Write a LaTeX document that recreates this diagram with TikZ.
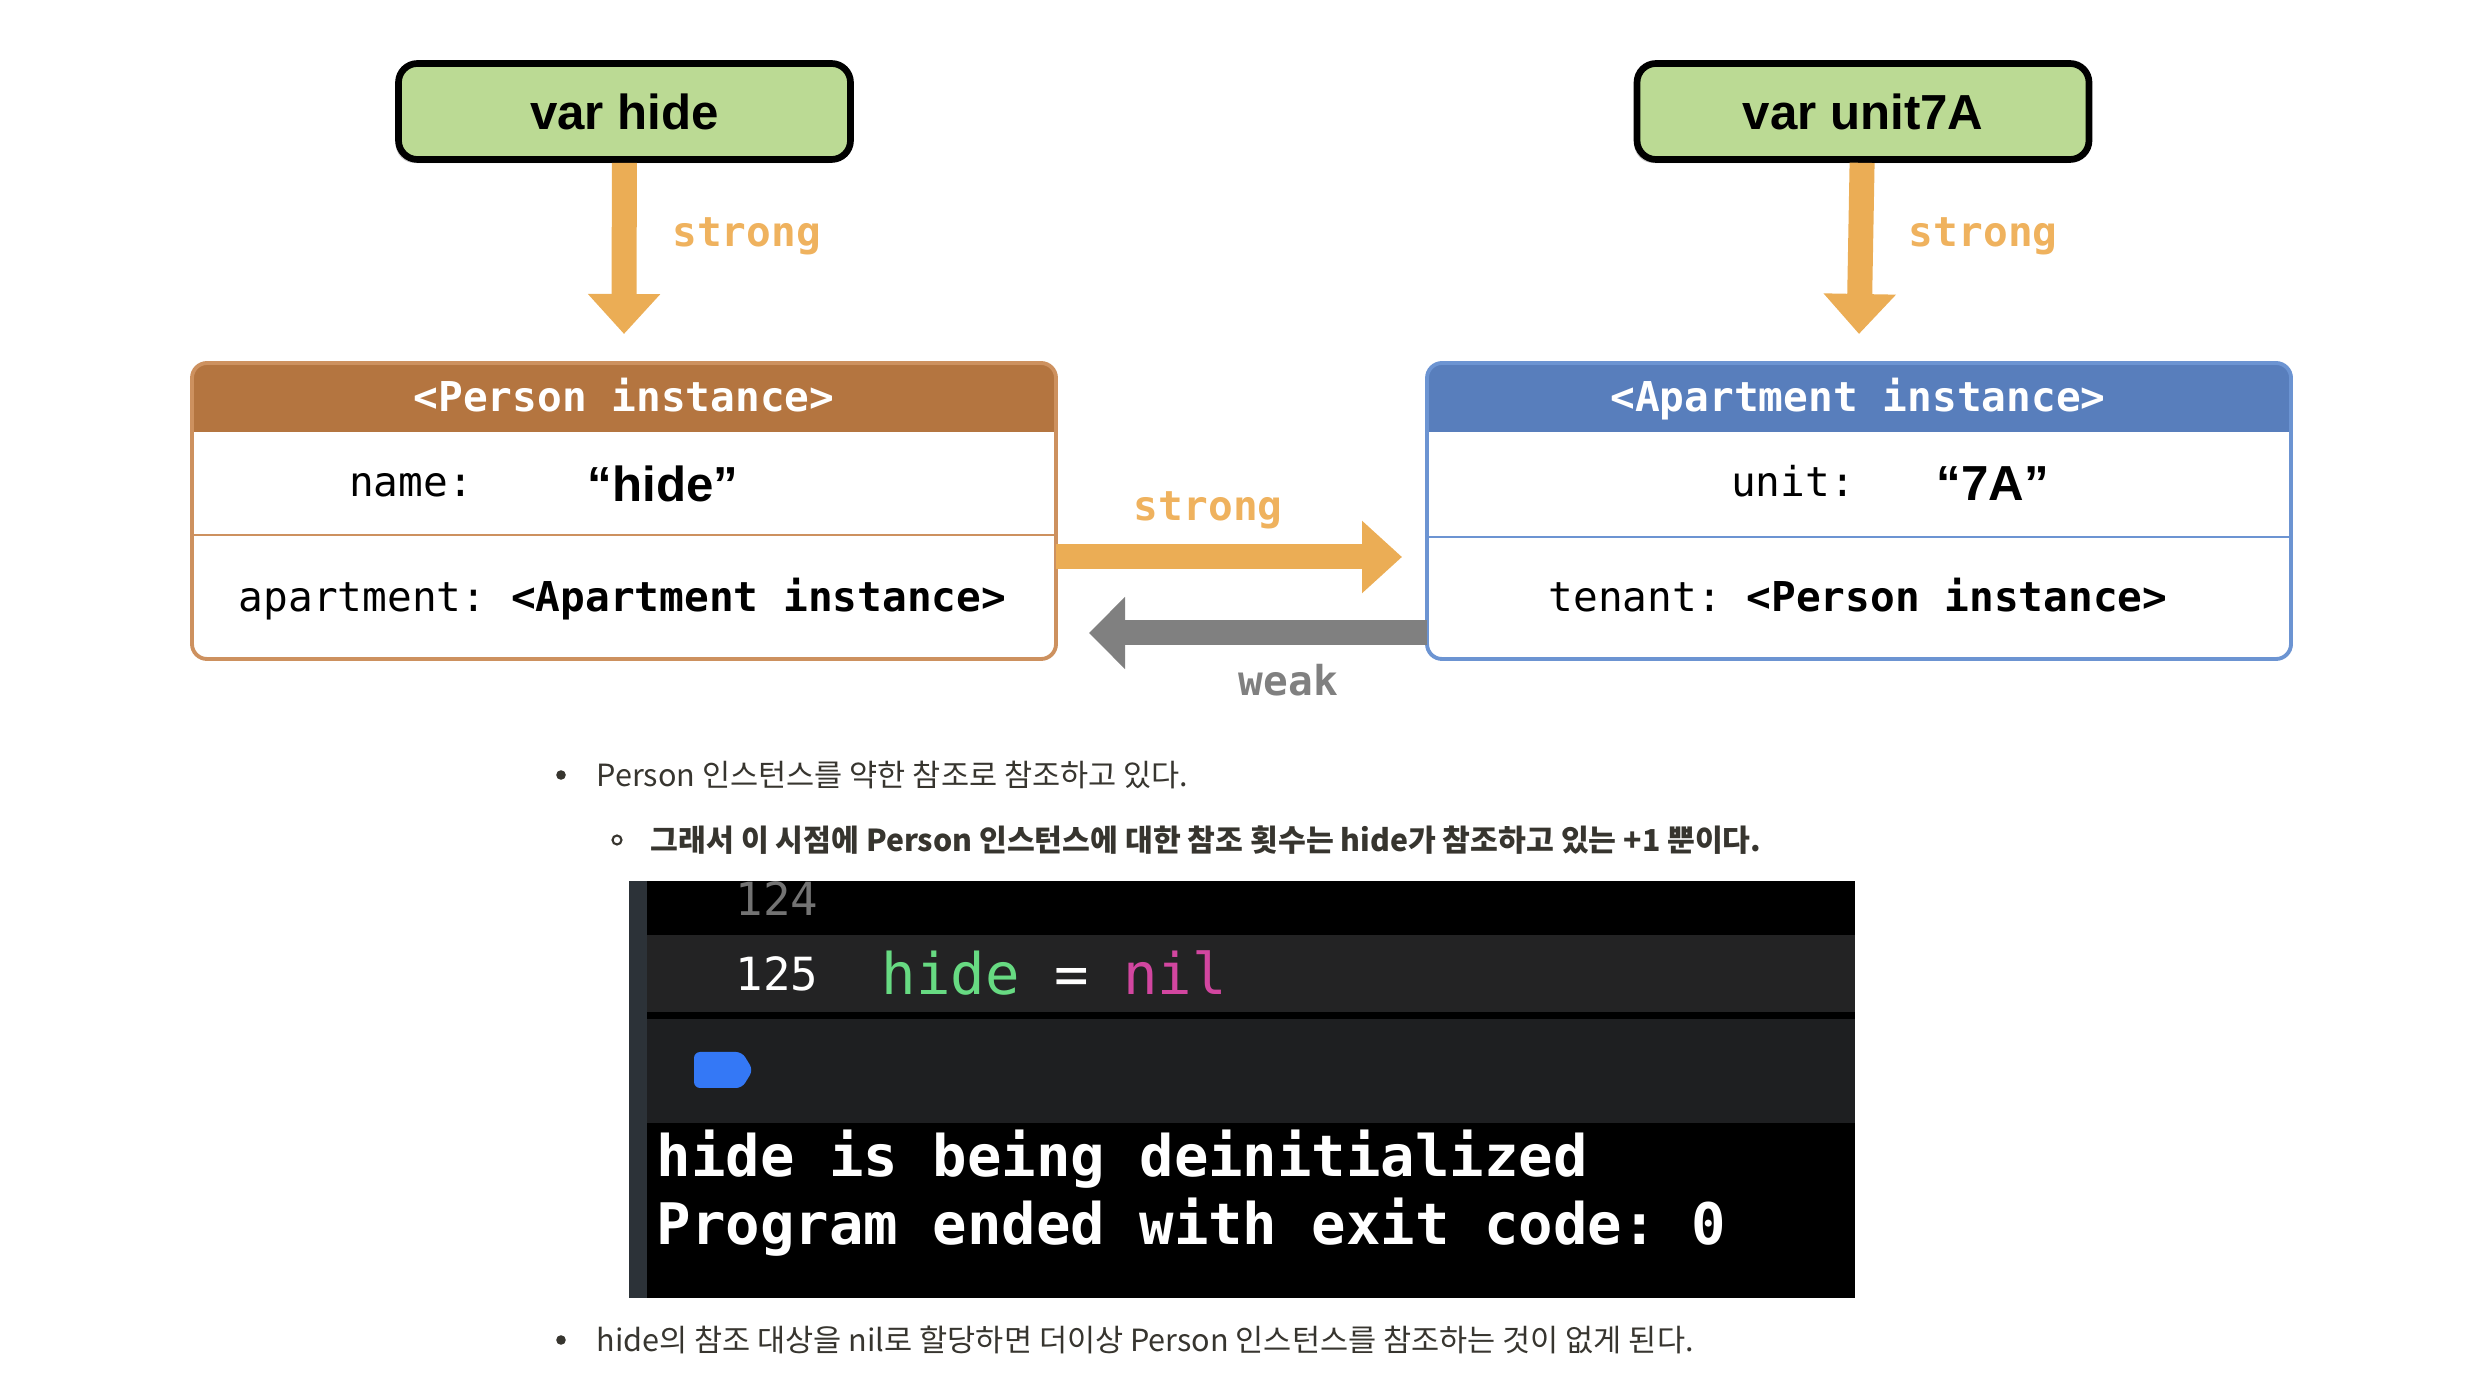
\documentclass[tikz,border=0pt]{standalone}
\usepackage{fontspec}
\usetikzlibrary{arrows.meta,shadows}

\newfontfamily\varfont{Liberation Sans}
\newfontfamily\codefont{DejaVu Sans Mono}
\newfontfamily\krfont{Noto Sans CJK KR}

\definecolor{varfill}{RGB}{187,218,148}
\definecolor{strongc}{RGB}{235,173,85}
\definecolor{strongtxt}{RGB}{239,178,94}
\definecolor{weakc}{RGB}{128,128,128}
\definecolor{personhead}{RGB}{180,117,64}
\definecolor{personline}{RGB}{205,145,95}
\definecolor{apthead}{RGB}{88,126,188}
\definecolor{aptline}{RGB}{108,148,210}
\definecolor{notetext}{RGB}{55,53,47}
\definecolor{codegreen}{RGB}{103,218,130}
\definecolor{codepink}{RGB}{210,70,160}
\definecolor{rowhi}{RGB}{35,35,36}
\definecolor{rowlo}{RGB}{30,31,33}
\definecolor{gutter}{RGB}{44,50,56}
\definecolor{tagblue}{RGB}{52,120,246}

\tikzset{
  varbox/.style={draw=black, line width=1.9pt, fill=varfill, rounded corners=0.19cm,
    minimum width=4.52cm, minimum height=0.96cm,
    font=\varfont\bfseries\fontsize{14}{16}\selectfont,
    drop shadow={shadow xshift=-0.8pt, shadow yshift=-1pt, opacity=0.35, fill=black!60}},
  objbox/.style={minimum width=8.64cm, minimum height=2.96cm, inner sep=0, outer sep=0},
  headtext/.style={text=white, text height=0.75em, text depth=0.22em,
    font=\codefont\bfseries\fontsize{11.7}{14}\selectfont\frenchspacing},
  field/.style={text height=0.75em, text depth=0.22em,
    font=\codefont\fontsize{11.7}{14}\selectfont\frenchspacing},
  value/.style={font=\varfont\bfseries\fontsize{14}{16}\selectfont},
  strongarrow/.style={strongc, line width=0.25cm, -{Triangle[length=0.4cm,width=0.7cm]}},
  weakarrow/.style={weakc, line width=0.25cm, -{Triangle[length=0.36cm,width=0.7cm]}},
  strongtext/.style={text=strongtxt, font=\codefont\bfseries\fontsize{11.7}{14}\selectfont},
  weaktext/.style={text=weakc, font=\codefont\bfseries\fontsize{11.7}{14}\selectfont},
  note/.style={inner sep=0, anchor=west, text=notetext, font=\krfont\fontsize{8.7}{10}\selectfont},
  lineno/.style={font=\codefont\fontsize{13}{15}\selectfont},
  code/.style={inner sep=0, anchor=west, font=\codefont\fontsize{16.3}{19}\selectfont},
  output/.style={inner sep=0, anchor=west, text=white,
    font=\codefont\bfseries\fontsize{16.3}{19}\selectfont\frenchspacing}
}

\begin{document}
\begin{tikzpicture}

\useasboundingbox (0,0) rectangle (24.8,-13.84);

% variables
\node[varbox] (hide) at (6.245,-1.115) {var hide};
\node[varbox] (unit) at (18.63,-1.115) {var unit7A};

% Person instance
\node[objbox] (person) at (6.24,-5.11) {};
\begin{scope}
\clip[rounded corners=1.5mm] (person.north west) rectangle (person.south east);
\fill[personhead] (person.north west) rectangle ([yshift=-6.9mm]person.north east);
\end{scope}
\draw[personline, line width=1.1pt, rounded corners=1.5mm] (person.north west) rectangle (person.south east);
\draw[personline, line width=0.8pt] ([yshift=-17.2mm]person.north west) -- ([yshift=-17.2mm]person.north east);
\node[headtext] (personhd) at (6.24,-4.02) {<Person instance>};
\node[field] (pname) at (4.11,-4.87) {name:};
\node[value] (pnameval) at (6.63,-4.84) {“hide”};
\node[field] (papt) at (6.225,-6.02) {apartment: \textbf{<Apartment instance>}};

% Apartment instance
\node[objbox] (apt) at (18.59,-5.11) {};
\begin{scope}
\clip[rounded corners=1.5mm] (apt.north west) rectangle (apt.south east);
\fill[apthead] (apt.north west) rectangle ([yshift=-6.9mm]apt.north east);
\end{scope}
\draw[aptline, line width=1.1pt, rounded corners=1.5mm] (apt.north west) rectangle (apt.south east);
\draw[aptline, line width=0.8pt] ([yshift=-17.4mm]apt.north west) -- ([yshift=-17.4mm]apt.north east);
\node[headtext] (apthd) at (18.58,-4.02) {<Apartment instance>};
\node[field] (aunit) at (17.93,-4.87) {unit:};
\node[value] (aunitval) at (19.93,-4.84) {“7A”};
\node[field] (atenant) at (18.58,-6.02) {tenant: \textbf{<Person instance>}};

% references
\draw[strongarrow] (hide) -- ([yshift=2.9mm]person.north) node[pos=0.43, right=0.24cm, strongtext] {strong};
\draw[strongarrow] (unit) -- ([yshift=2.9mm]apt.north) node[pos=0.43, right=0.24cm, strongtext] {strong};
\draw[strongarrow] ([yshift=-4.6mm]person.east) -- ([xshift=-2.5mm,yshift=-4.6mm]apt.west) node[pos=0.44, above=0.04cm, strongtext] {strong};
\draw[weakarrow] ([yshift=-12.2mm]apt.west) -- ([xshift=3.3mm,yshift=-12.2mm]person.east) node[pos=0.41, below=0.07cm, weaktext] {weak};

% notes
\fill[notetext] (5.61,-7.75) circle[radius=0.048];
\node[note] (note1) at (5.96,-7.75) {Person 인스턴스를 약한 참조로 참조하고 있다.};
\draw[notetext, line width=0.6pt] (6.17,-8.40) circle[radius=0.045];
\node[note, font=\krfont\bfseries\fontsize{8.6}{10}\selectfont] (note2) at (6.50,-8.40) {그래서 이 시점에 Person 인스턴스에 대한 참조 횟수는 hide가 참조하고 있는 +1 뿐이다.};

% console screenshot
\fill[black] (6.29,-8.81) rectangle (18.55,-12.98);
\fill[gutter] (6.29,-8.81) rectangle (6.47,-12.98);
\fill[rowhi] (6.47,-9.35) rectangle (18.55,-10.12);
\fill[rowlo] (6.47,-10.19) rectangle (18.55,-11.23);
\fill[tagblue, rounded corners=0.6mm] (6.94,-10.52) -- (7.42,-10.52) -- (7.53,-10.70) -- (7.42,-10.88) -- (6.94,-10.88) -- cycle;
\begin{scope}
\clip (6.29,-8.81) rectangle (18.55,-12.98);
\node[lineno, text=black!55] (n124) at (7.77,-8.99) {124};
\end{scope}
\node[lineno, text=white] (n125) at (7.77,-9.74) {125};
\node[code] (stmt) at (8.81,-9.73) {\textcolor{codegreen}{hide} \textcolor{white}{=} \textcolor{codepink}{nil}};
\node[output] (out1) at (6.56,-11.59) {hide is being deinitialized};
\node[output] (out2) at (6.56,-12.27) {Program ended with exit code: 0};

\fill[notetext] (5.61,-13.40) circle[radius=0.048];
\node[note] (note3) at (5.96,-13.40) {hide의 참조 대상을 nil로 할당하면 더이상 Person 인스턴스를 참조하는 것이 없게 된다.};

\end{tikzpicture}
\end{document}
